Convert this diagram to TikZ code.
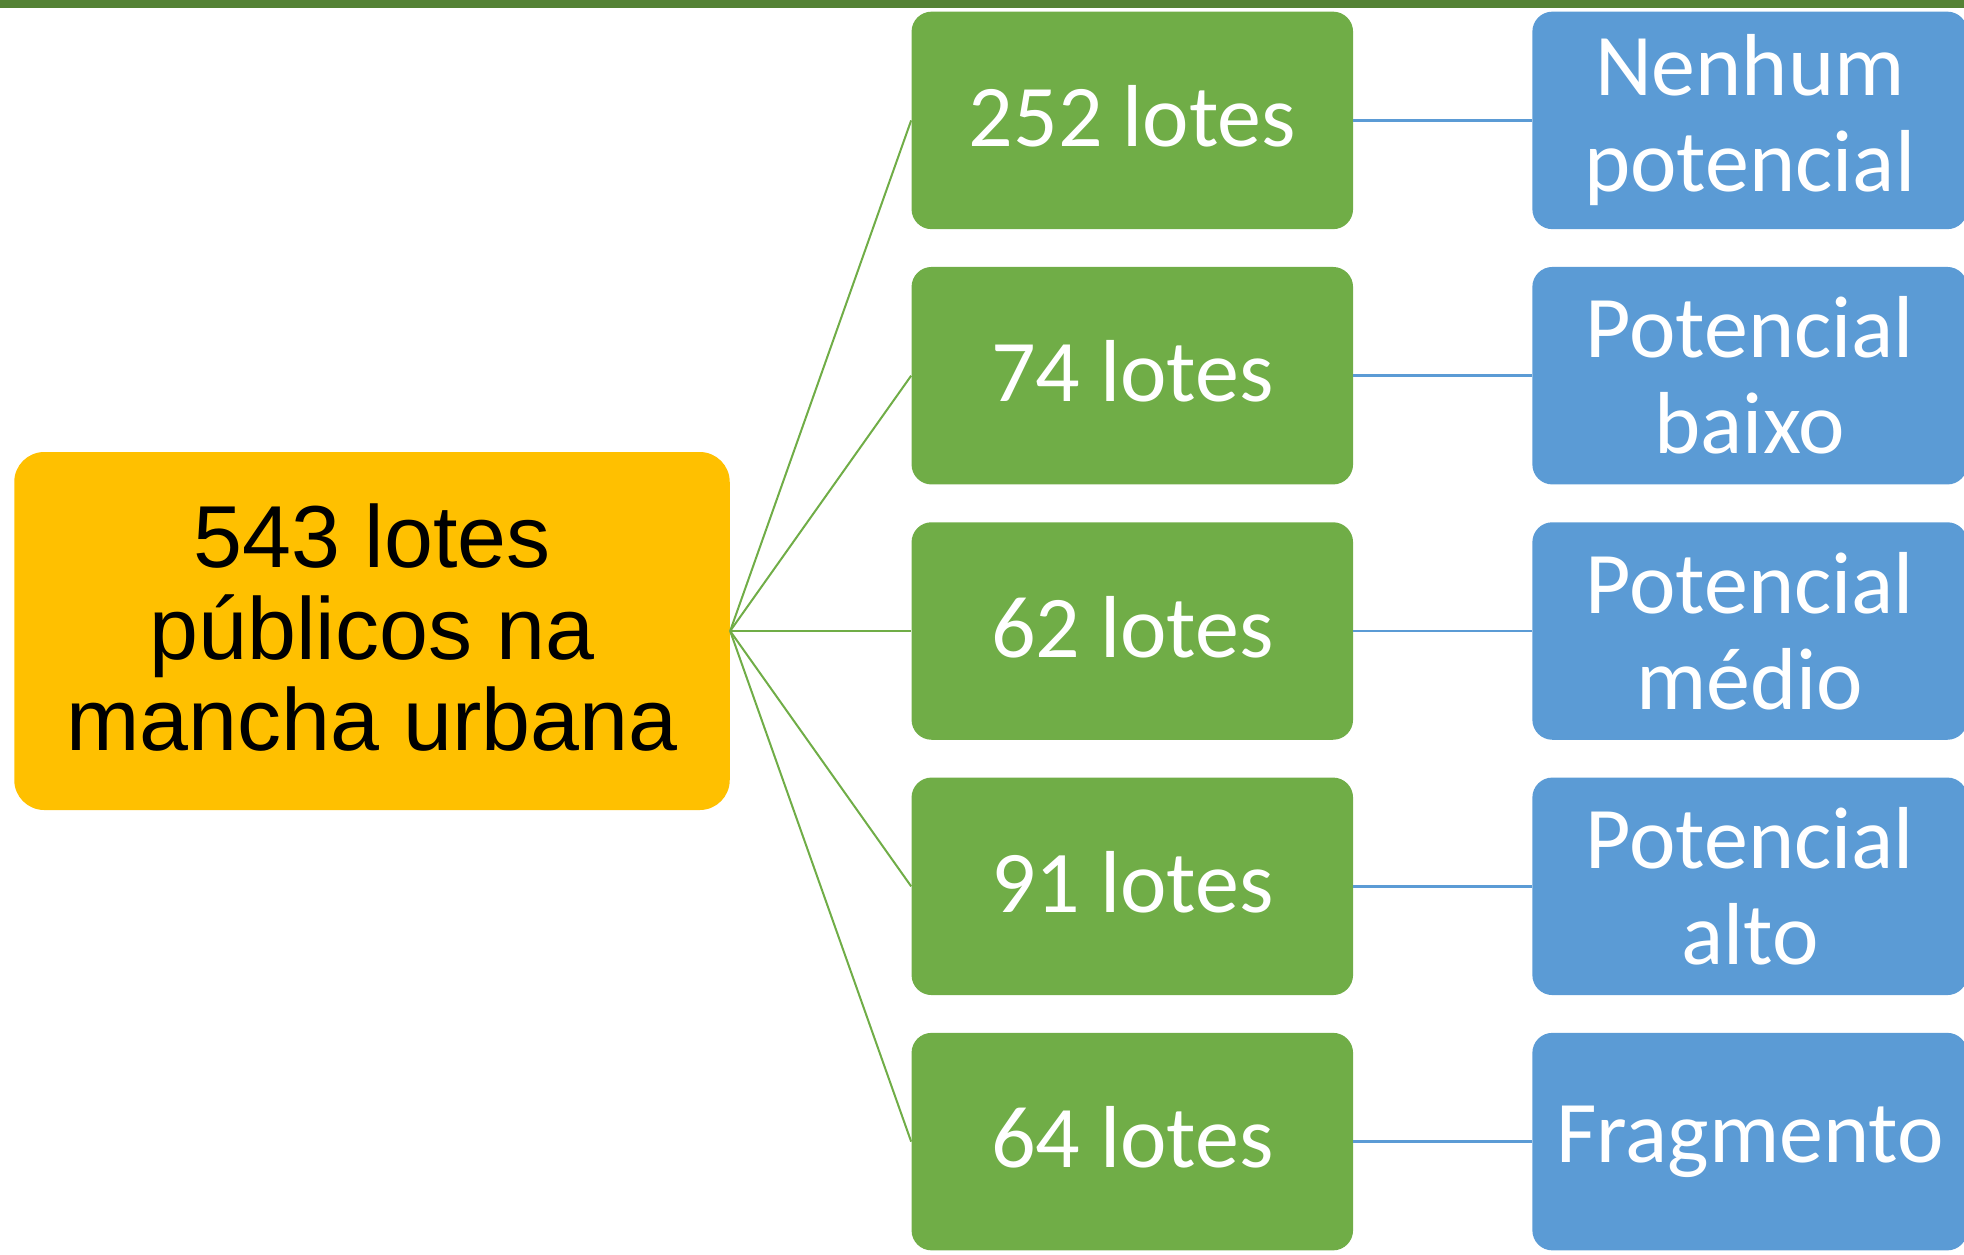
\documentclass[tikz,border=0pt]{standalone}
\usepackage{fontspec}
\setmainfont{Carlito}
\newfontfamily\arialfont{Liberation Sans}
\usetikzlibrary{positioning}
\definecolor{bargreen}{HTML}{548235}
\definecolor{totalyellow}{HTML}{FFC000}
\definecolor{lotgreen}{HTML}{70AD47}
\definecolor{classblue}{HTML}{5B9BD5}
\tikzset{
  box/.style={rounded corners=10pt,align=center,inner sep=0pt,text=white,font=\fontsize{44}{48}\selectfont},
  totalbox/.style={box,fill=totalyellow,text=black,rounded corners=15pt,minimum width=357.75pt,minimum height=179pt,text depth=3.8pt,font=\arialfont\fontsize{44}{45.75}\selectfont},
  lotbox/.style={box,fill=lotgreen,minimum width=220.75pt,minimum height=108.75pt,text height=30pt,text depth=4pt},
  classbox/.style={box,fill=classblue,minimum width=217.5pt,minimum height=108.75pt},
  branch/.style={line width=1pt,draw=lotgreen},
  link/.style={line width=1.3pt,draw=classblue}
}
\begin{document}
\begin{tikzpicture}[node distance=18.5pt and 90.5pt]
  \useasboundingbox (0,0) rectangle (982pt,-627pt);
  \fill[bargreen] (0,0) rectangle (982pt,-4pt);
  % left: total
  \node[totalbox] (total) at (186pt,-315.5pt) {543 lotes\\públicos na\\mancha urbana};
  % middle column: lots
  \node[lotbox,right=of total] (lotmid) {62 lotes};
  \node[lotbox,above=of lotmid] (lotlow) {74 lotes};
  \node[lotbox,above=of lotlow] (lotnone) {252 lotes};
  \node[lotbox,below=of lotmid] (lothigh) {91 lotes};
  \node[lotbox,below=of lothigh] (lotfrag) {64 lotes};
  % right column: potential
  \node[classbox,right=89.25pt of lotnone] (nonepot) {Nenhum\\potencial};
  \node[classbox,right=89.25pt of lotlow] (lowpot) {Potencial\\baixo};
  \node[classbox,right=89.25pt of lotmid] (midpot) {Potencial\\médio};
  \node[classbox,right=89.25pt of lothigh] (highpot) {Potencial\\alto};
  \node[classbox,right=89.25pt of lotfrag] (fragpot) {Fragmento};
  \draw[branch] (total.east) -- (lotnone.west);
  \draw[branch] (total.east) -- (lotlow.west);
  \draw[branch] (total.east) -- (lotmid.west);
  \draw[branch] (total.east) -- (lothigh.west);
  \draw[branch] (total.east) -- (lotfrag.west);
  \draw[link] (lotnone) -- (nonepot);
  \draw[link] (lotlow) -- (lowpot);
  \draw[link] (lotmid) -- (midpot);
  \draw[link] (lothigh) -- (highpot);
  \draw[link] (lotfrag) -- (fragpot);
\end{tikzpicture}
\end{document}
